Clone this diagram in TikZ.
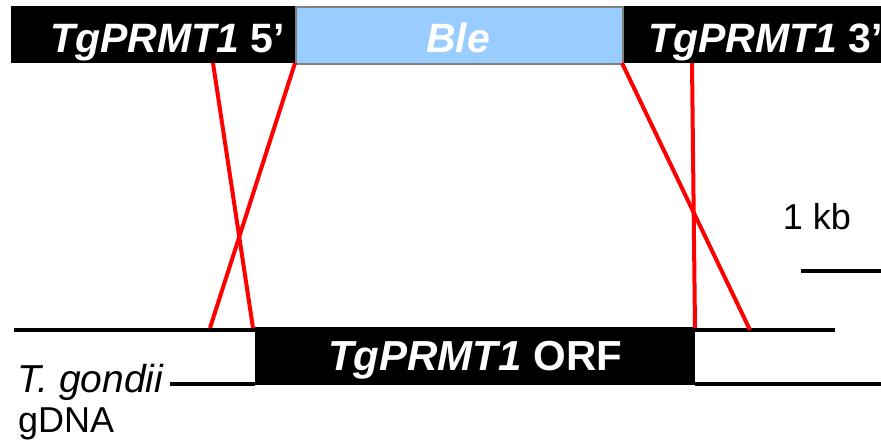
\documentclass[tikz,border=0pt]{standalone}
\usepackage{fontspec}
\setmainfont{Liberation Sans}
\definecolor{bleblue}{HTML}{99CCFF}
\definecolor{bleedge}{HTML}{808080}
\definecolor{xred}{HTML}{FF0000}
\begin{document}
\begin{tikzpicture}[x=1pt,y=-1pt,
  blackbox/.style={rectangle,fill=black,inner sep=0pt,anchor=north west},
  lbl/.style={inner sep=0pt,text=white,font=\fontsize{41}{48}\selectfont\bfseries},
  plain/.style={inner sep=0pt,text=black,font=\fontsize{36}{42}\selectfont},
  dna/.style={line width=4pt,black},
  xover/.style={line width=4pt,xred}]
\useasboundingbox (0,0) rectangle (881,442);
% top construct
\node[blackbox,minimum width=284pt,minimum height=57pt] (up) at (11,6) {};
\node[blackbox,minimum width=270pt,minimum height=57pt] (down) at (622,6) {};
\node[rectangle,fill=bleblue,draw=bleedge,line width=1.5pt,inner sep=0pt,minimum width=327pt,minimum height=57pt,anchor=north west] (ble) at (295,6) {};
\node[lbl,anchor=base east] (uplbl) at (285,52) {\textit{TgPRMT1} 5’};
\node[lbl,anchor=base west] (downlbl) at (648,52) {\textit{TgPRMT1} 3’};
\node[lbl,anchor=base] (blelbl) at (458,52) {\textit{Ble}};
% genomic locus
\node[blackbox,minimum width=440pt,minimum height=58pt] (orf) at (255,327) {};
\node[lbl,font=\fontsize{42}{48}\selectfont\bfseries,anchor=base] (orflbl) at (475,370) {\textit{TgPRMT1} ORF};
\coordinate (gl1) at (14,330);
\coordinate (gr1) at (835,330);
\coordinate (gl2) at (170,384);
\coordinate (gr2) at (881,384);
\draw[dna] (gl1) -- (orf.north west |- gl1);
\draw[dna] (orf.north east |- gr1) -- (gr1);
\draw[dna] (gl2) -- (orf.south west |- gl2);
\draw[dna] (orf.south east |- gr2) -- (gr2);
\node[plain,font=\fontsize{39}{42}\selectfont,anchor=base west] (tg) at (17,392) {\textit{T. gondii}};
\node[plain,anchor=base west] (gdna) at (18,432) {gDNA};
% scale bar
\node[plain,anchor=base] (kb) at (817,229) {1 kb};
\coordinate (sb1) at (801,271);
\coordinate (sb2) at (881,271);
\draw[dna] (sb1) -- (sb2);
% crossover lines
\coordinate (a1) at (213,63);
\coordinate (a2) at (253,328);
\coordinate (b1) at (295,63);
\coordinate (b2) at (210,328);
\coordinate (c1) at (622,63);
\coordinate (c2) at (750,330);
\coordinate (d1) at (692,63);
\coordinate (d2) at (695,328);
\draw[xover] (a1) -- (a2);
\draw[xover] (b1) -- (b2);
\draw[xover] (c1) -- (c2);
\draw[xover] (d1) -- (d2);
\end{tikzpicture}
\end{document}
